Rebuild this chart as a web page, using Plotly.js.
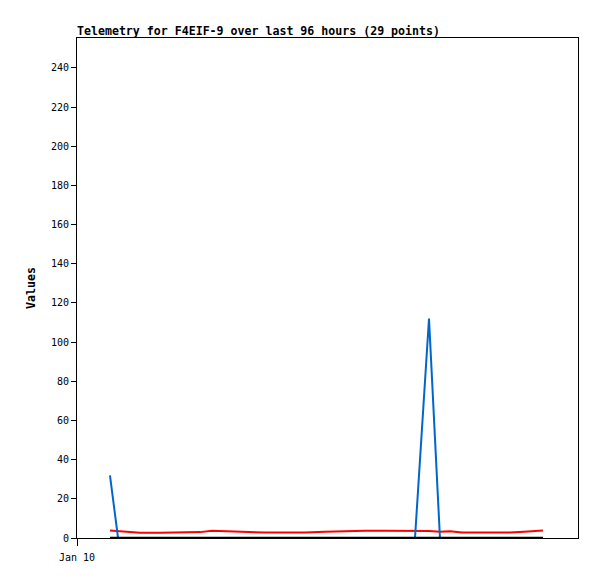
<!DOCTYPE html>
<html>
<head>
<meta charset="utf-8">
<script src="https://cdn.plot.ly/plotly-3.0.1.min.js"></script>
<style>html,body{margin:0;padding:0;background:#fff;}#chart{width:597px;height:579px;}</style>
</head>
<body>
<div id="chart"></div>
<script>
const times = [
  "2024-01-10 06:19","2024-01-10 07:52","2024-01-10 09:23","2024-01-10 12:04","2024-01-10 15:54",
  "2024-01-10 19:44","2024-01-10 23:34","2024-01-11 01:52","2024-01-11 04:56","2024-01-11 08:11",
  "2024-01-11 12:01","2024-01-11 15:51","2024-01-11 19:41","2024-01-11 23:31","2024-01-12 03:21",
  "2024-01-12 07:11","2024-01-12 11:01","2024-01-12 13:53","2024-01-12 16:46","2024-01-12 19:27",
  "2024-01-12 21:33","2024-01-12 23:28","2024-01-13 01:46","2024-01-13 04:50","2024-01-13 07:54",
  "2024-01-13 10:58","2024-01-13 13:39","2024-01-13 15:34","2024-01-13 17:17"
];
const redValues = [3.8,3.6,3.2,2.7,2.7,2.7,3.0,3.7,3.5,2.9,2.8,2.8,2.8,3.2,3.6,3.7,3.7,3.7,3.7,3.6,3.2,3.4,2.8,2.8,2.8,2.8,3.2,3.6,3.8];
const blueValues = [32,0,0,0,0,0,0,0,0,0,0,0,0,0,0,0,0,0,0,112,0,0,0,0,0,0,0,0,0];
const blackValues = [0,0,0,0,0,0,0,0,0,0,0,0,0,0,0,0,0,0,0,0,0,0,0,0,0,0,0,0,0];
const xTickVals = ["2024-01-10 00:00"];
const xTickText = ["Jan 10"];
const yTickVals = [0,20,40,60,80,100,120,140,160,180,200,220,240];

const traces = [
  {x: times, y: redValues, type: 'scatter', mode: 'lines', line: {color: '#ff0000', width: 2}},
  {x: times, y: blueValues, type: 'scatter', mode: 'lines', line: {color: '#0066cc', width: 2}},
  {x: times, y: blackValues, type: 'scatter', mode: 'lines', line: {color: '#000000', width: 2.5}}
];
const layout = {
  width: 597, height: 579,
  margin: {l: 77, r: 19, t: 38, b: 41, pad: 0},
  paper_bgcolor: '#ffffff', plot_bgcolor: '#ffffff',
  showlegend: false,
  title: {text: 'Telemetry for F4EIF-9 over last 96 hours (29 points)', x: 77/597, xanchor: 'left', xref: 'container', y: 1 - 31/579, yanchor: 'middle', yref: 'container',
    font: {family: 'DejaVu Sans Mono', size: 11.6, color: '#000', weight: 'bold'}},
  xaxis: {
    type: 'date', range: ["2024-01-10 00:00", "2024-01-14 00:00"],
    tickmode: 'array', tickvals: xTickVals, ticktext: xTickText,
    ticks: 'outside', ticklen: 7, tickcolor: '#000', tickwidth: 1, ticklabelstandoff: 3,
    showgrid: false, zeroline: false, showline: true, linecolor: '#000', linewidth: 1, mirror: true,
    tickfont: {family: 'DejaVu Sans Mono', size: 10, color: '#000'}, fixedrange: true
  },
  yaxis: {
    range: [0, 255.3], tickmode: 'array', tickvals: yTickVals,
    ticks: 'outside', ticklen: 5, tickcolor: '#000', tickwidth: 1,
    showgrid: false, zeroline: false, showline: true, linecolor: '#000', linewidth: 1, mirror: true,
    tickfont: {family: 'DejaVu Sans Mono', size: 10, color: '#000'},
    title: {text: 'Values', standoff: 12, font: {family: 'DejaVu Sans Mono', size: 11.6, color: '#000', weight: 'bold'}},
    fixedrange: true
  }
};
Plotly.newPlot('chart', traces, layout, {displayModeBar: false, staticPlot: true});
</script>
</body>
</html>
